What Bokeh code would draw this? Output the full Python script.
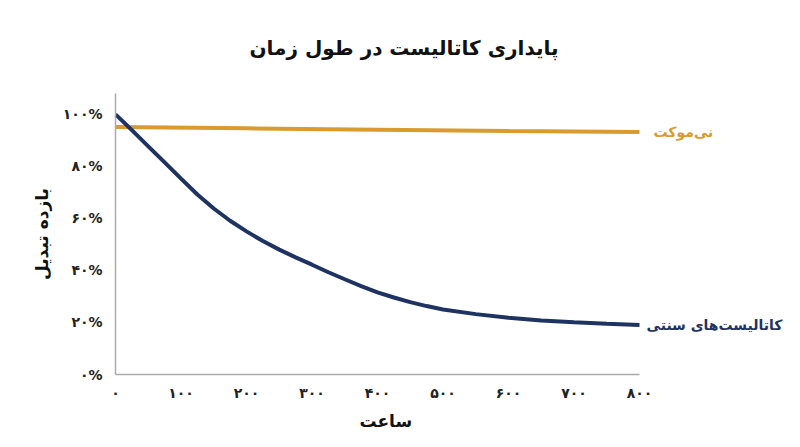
from bokeh.plotting import figure
from bokeh.models import Range1d, Label, FixedTicker, Title
from bokeh.embed import file_html
from bokeh.resources import INLINE

# ---- data ----
hours = [0, 25, 50, 75, 100, 125, 150, 175, 200, 225, 250, 275, 300, 325, 350, 375, 400,
         425, 450, 475, 500, 550, 600, 650, 700, 750, 800]
conventional = [100, 93.9, 87.7, 81.5, 75.3, 69.2, 63.8, 59.1, 55.0, 51.3, 48.0, 45.0, 42.2, 39.3, 36.6, 34.0, 31.6,
                29.6, 27.8, 26.3, 25.0, 23.2, 21.8, 20.8, 20.1, 19.5, 19.0]
nano_hours = [0, 200, 400, 600, 800]
nano = [95.1, 94.6, 94.1, 93.6, 93.2]

x_ticks = [0, 100, 200, 300, 400, 500, 600, 700, 800]
x_tick_labels = ["۰", "۱۰۰", "۲۰۰", "۳۰۰", "۴۰۰", "۵۰۰", "۶۰۰", "۷۰۰", "۸۰۰"]
y_ticks = [0, 20, 40, 60, 80, 100]
y_tick_labels = ["۰%", "۲۰%", "۴۰%", "۶۰%", "۸۰%", "۱۰۰%"]

title_text = "پایداری کاتالیست در طول زمان"
x_label = "ساعت"
y_label = "بازده تبدیل"
nano_name = "نی\u200cموکت"
conv_name = "کاتالیست\u200cهای سنتی"

ORANGE = "#D99A2E"
NAVY = "#1F3363"
FONT = "DejaVu Sans"

# frame spans 115..795 px; data 0..800 occupies 524 px
x_max = 800 * 680 / 524

p = figure(width=800, height=447, output_backend="svg", toolbar_location=None,
           x_range=Range1d(0, x_max), y_range=Range1d(0, 108),
           min_border_left=115, min_border_right=5, min_border_top=92, min_border_bottom=73)

p.title.text = title_text
p.title.align = "left"
p.title.offset = 134
p.title.text_font = FONT
p.title.text_font_size = "20px"
p.title.text_font_style = "bold"
p.title.text_color = "#111111"
p.title.standoff = 67

p.outline_line_color = None
p.grid.visible = False
p.background_fill_color = "white"
p.border_fill_color = "white"

p.xaxis.ticker = FixedTicker(ticks=x_ticks)
p.xaxis.major_label_overrides = {t: l for t, l in zip(x_ticks, x_tick_labels)}
p.xaxis.bounds = (x_ticks[0], x_ticks[-1])
p.yaxis.ticker = FixedTicker(ticks=y_ticks)
p.yaxis.major_label_overrides = {t: l for t, l in zip(y_ticks, y_tick_labels)}

for ax in (p.xaxis, p.yaxis):
    ax.axis_line_color = "#AAAAAA"
    ax.axis_line_width = 1.5
    ax.major_tick_line_color = None
    ax.minor_tick_line_color = None
    ax.major_label_text_font = FONT
    ax.major_label_text_font_size = "14px"
    ax.major_label_text_font_style = "bold"
    ax.major_label_text_color = "#222222"
    ax.axis_label_text_font = FONT
    ax.axis_label_text_font_size = "17px"
    ax.axis_label_text_font_style = "bold"
    ax.axis_label_text_color = "#111111"

p.yaxis.axis_label = y_label
p.xaxis.major_label_standoff = 4
p.yaxis.major_label_standoff = 7
p.yaxis.axis_label_standoff = 8

# x-axis label as a bottom title so it can sit centred under the 0..800 span
p.add_layout(Title(text=x_label, align="left", offset=244, standoff=10,
                   text_font=FONT, text_font_size="17px", text_font_style="bold",
                   text_color="#111111"), "below")

p.line(nano_hours, nano, line_color=ORANGE, line_width=4)
p.line(hours, conventional, line_color=NAVY, line_width=4)

p.add_layout(Label(x=nano_hours[-1], y=nano[-1], text=nano_name, x_offset=14,
                   text_align="left", text_baseline="middle", text_font=FONT,
                   text_font_size="14px", text_font_style="bold", text_color=ORANGE))
p.add_layout(Label(x=hours[-1], y=conventional[-1], text=conv_name, x_offset=7,
                   text_align="left", text_baseline="middle", text_font=FONT,
                   text_font_size="14px", text_font_style="bold", text_color=NAVY))

open("out.html", "w").write(file_html(p, INLINE))
